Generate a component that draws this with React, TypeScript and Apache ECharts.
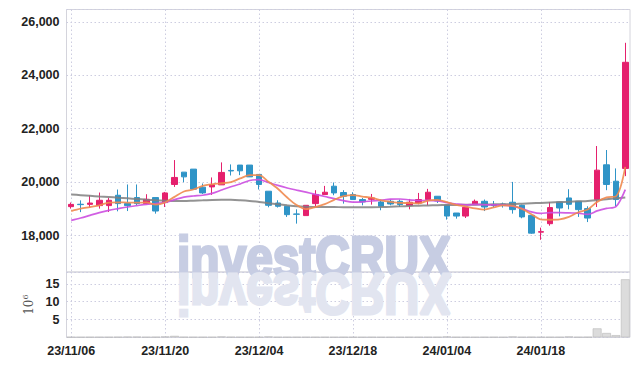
import React, { useEffect, useRef } from "react";
import * as echarts from "echarts";

const dates = [
  "23/11/06", "23/11/07", "23/11/08", "23/11/09", "23/11/10",
  "23/11/13", "23/11/14", "23/11/15", "23/11/16", "23/11/17",
  "23/11/20", "23/11/21", "23/11/22", "23/11/23", "23/11/24",
  "23/11/27", "23/11/28", "23/11/29", "23/11/30", "23/12/01",
  "23/12/04", "23/12/05", "23/12/06", "23/12/07", "23/12/08",
  "23/12/11", "23/12/12", "23/12/13", "23/12/14", "23/12/15",
  "23/12/18", "23/12/19", "23/12/20", "23/12/21", "23/12/22",
  "23/12/26", "23/12/27", "23/12/28", "24/01/02", "24/01/03",
  "24/01/04", "24/01/05", "24/01/08", "24/01/09", "24/01/10",
  "24/01/11", "24/01/12", "24/01/15", "24/01/16", "24/01/17",
  "24/01/18", "24/01/19", "24/01/22", "24/01/23", "24/01/24",
  "24/01/25", "24/01/26", "24/01/29", "24/01/30", "24/01/31",
];

// [open, close, low, high]
const ohlc = [
  [19085, 19170, 19010, 19240], [19175, 19160, 18880, 19320], [19170, 19220, 19050, 19510],
  [19124, 19323, 19011, 19613], [19124, 19323, 18883, 19410], [19511, 19199, 18910, 19726],
  [19199, 19124, 18920, 19914], [19425, 19199, 19135, 19914], [19199, 19361, 19173, 19550],
  [19425, 18921, 18823, 19425], [19237, 19598, 19072, 19635], [19914, 20177, 19823, 20827],
  [20376, 20199, 20000, 20376], [20489, 19737, 19737, 20489], [19812, 19598, 19560, 19950],
  [19823, 19900, 19523, 20177], [19900, 20365, 19900, 20740], [20440, 20420, 20250, 20665],
  [20640, 20425, 20263, 20640], [20640, 20199, 20199, 20640], [20290, 19914, 19726, 20290],
  [19662, 19135, 19060, 19662], [19222, 19098, 19050, 19323], [19098, 18785, 18700, 19098],
  [18810, 18800, 18450, 18985], [18750, 19135, 18750, 19135], [19199, 19537, 19072, 19700],
  [19537, 19624, 19537, 19861], [19850, 19598, 19511, 19989], [19613, 19474, 19199, 19700],
  [19537, 19350, 19350, 19624], [19350, 19260, 19135, 19410], [19360, 19410, 19160, 19560],
  [19260, 19098, 18950, 19350], [19285, 19185, 19135, 19350], [19285, 19160, 19072, 19350],
  [19124, 19250, 18985, 19373], [19222, 19350, 19173, 19598], [19350, 19624, 19135, 19750],
  [19474, 19297, 19222, 19474], [19147, 18733, 18600, 19147], [18846, 18733, 18636, 18846],
  [18733, 19060, 18660, 19060], [19160, 19285, 19160, 19350], [19285, 19072, 18920, 19350],
  [19160, 19124, 19050, 19297], [19185, 19124, 19050, 19235], [19250, 18974, 18823, 20010],
  [19135, 18700, 18650, 19160], [18760, 18094, 18070, 18760], [18130, 18150, 17845, 18300],
  [18447, 19050, 18372, 19260], [19260, 19034, 18722, 19260], [19410, 19173, 18985, 19737],
  [19285, 18974, 18700, 19285], [19011, 18658, 18508, 19098], [19350, 20450, 19072, 21353],
  [20650, 19914, 19700, 21203], [20037, 19350, 19098, 20515], [20515, 24485, 20226, 25214],
];

const ma5 = [
  18920, 19010, 19070, 19135, 19239, 19245, 19238, 19234, 19241, 19161,
  19241, 19451, 19651, 19726, 19862, 19922, 19960, 20004, 20142, 20262,
  20265, 20019, 19754, 19426, 19146, 18991, 19071, 19176, 19339, 19474,
  19517, 19461, 19418, 19318, 19261, 19223, 19221, 19209, 19314, 19336,
  19251, 19147, 19089, 19022, 18977, 19055, 19133, 19116, 18999, 18803,
  18608, 18594, 18606, 18700, 18876, 18978, 19258, 19434, 19469, 20571,
];

const ma10 = [
  18571, 18660, 18760, 18861, 18947, 19011, 19072, 19124, 19173, 19200,
  19243, 19345, 19442, 19484, 19511, 19581, 19706, 19828, 19934, 20062,
  20093, 19989, 19879, 19784, 19704, 19628, 19545, 19465, 19383, 19310,
  19254, 19266, 19297, 19329, 19367, 19370, 19341, 19314, 19316, 19298,
  19237, 19184, 19149, 19168, 19156, 19153, 19140, 19103, 19010, 18890,
  18832, 18863, 18861, 18850, 18840, 18793, 18926, 19020, 19085, 19724,
];

const ma60 = [
  19540, 19515, 19490, 19465, 19445, 19420, 19395, 19370, 19345, 19325,
  19310, 19300, 19300, 19310, 19320, 19335, 19340, 19340, 19325, 19300,
  19260, 19215, 19175, 19135, 19100, 19080, 19075, 19070, 19068, 19066,
  19065, 19065, 19065, 19070, 19080, 19095, 19110, 19120, 19130, 19140,
  19145, 19150, 19155, 19160, 19165, 19170, 19175, 19180, 19195, 19210,
  19225, 19240, 19255, 19270, 19285, 19300, 19325, 19360, 19395, 19430,
];

// volume in millions
const volume = [
  0.05, 0.04, 0.05, 0.06, 0.05, 0.08, 0.15, 0.15, 0.06, 0.08,
  0.2, 0.4, 0.08, 0.06, 0.05, 0.07, 0.2, 0.08, 0.06, 0.05,
  0.05, 0.2, 0.06, 0.05, 0.05, 0.06, 0.05, 0.05, 0.04, 0.05,
  0.05, 0.04, 0.05, 0.04, 0.04, 0.04, 0.05, 0.05, 0.06, 0.05,
  0.2, 0.05, 0.05, 0.04, 0.05, 0.05, 0.04, 0.2, 0.06, 0.08,
  0.06, 0.05, 0.05, 0.2, 0.06, 0.08, 2.5, 1.2, 0.6, 16.3,
];

const UP = "#e5206d";
const DOWN = "#2f94c7";
const FONT = '"Liberation Sans", Arial, sans-serif';
const WATERMARK_FONT = 'bold 57px "Liberation Sans", Arial, sans-serif';

export default function App() {
  const ref = useRef<HTMLDivElement>(null);
  useEffect(() => {
    document.body.style.margin = "0";
    const chart = echarts.init(ref.current!, null, { renderer: "svg" });
    const dotted = { color: "#cdcde0", type: [1.5, 2.5], width: 1 };
    const every10 = (i: number) => i % 10 === 0;
    const labelStyle = {
      fontFamily: FONT,
      fontWeight: "bold",
      fontSize: 12.5,
      color: "#222",
    };
    chart.setOption({
      animation: false,
      backgroundColor: "#ffffff",
      grid: [
        { left: 66.5, right: 9, top: 9.5, height: 262.5, show: true, borderColor: "#d4d4dc", borderWidth: 1 },
        { left: 66.5, right: 9, top: 272, height: 65.3, show: true, borderColor: "#d4d4dc", borderWidth: 1 },
      ],
      xAxis: [
        {
          type: "category",
          gridIndex: 0,
          data: dates,
          boundaryGap: true,
          axisLine: { show: false },
          axisTick: { show: false },
          axisLabel: { show: false },
          splitLine: { show: true, interval: every10, alignWithLabel: true, lineStyle: dotted },
        },
        {
          type: "category",
          gridIndex: 1,
          data: dates,
          boundaryGap: true,
          axisLine: { show: false },
          axisTick: { show: false },
          axisLabel: { show: true, interval: every10, margin: 7, ...labelStyle },
          splitLine: { show: true, interval: every10, alignWithLabel: true, lineStyle: dotted },
        },
      ],
      yAxis: [
        {
          type: "value",
          gridIndex: 0,
          min: 16640,
          max: 26460,
          splitNumber: 5,
          axisLine: { show: false },
          axisTick: { show: false },
          axisLabel: {
            ...labelStyle,
            margin: 7,
            showMinLabel: false,
            showMaxLabel: false,
            formatter: (v: number) => v.toLocaleString("en-US"),
          },
          splitLine: { show: true, lineStyle: dotted },
        },
        {
          type: "value",
          gridIndex: 1,
          min: 0,
          max: 18.35,
          interval: 5,
          name: "{a|10}{b|6}",
          nameLocation: "middle",
          nameRotate: 90,
          nameGap: 29,
          nameTextStyle: {
            rich: {
              a: { fontFamily: "DejaVu Serif", fontSize: 12, color: "#555" },
              b: { fontFamily: "DejaVu Serif", fontSize: 8, color: "#555", verticalAlign: "top", padding: [0, 0, 6, 0] },
            },
          },
          axisLine: { show: false },
          axisTick: { show: false },
          axisLabel: { ...labelStyle, margin: 7, showMinLabel: false, showMaxLabel: false },
          splitLine: { show: true, lineStyle: dotted },
        },
      ],
      graphic: [
        {
          type: "text",
          x: 177,
          y: 285,
          scaleX: 0.84,
          z: 1,
          silent: true,
          style: {
            text: "investCRUX",
            font: WATERMARK_FONT,
            fill: "#c7cde3",
            stroke: "#c7cde3",
            lineWidth: 3,
            textVerticalAlign: "bottom",
          },
        },
        {
          type: "text",
          x: 177,
          y: 266,
          scaleX: 0.84,
          scaleY: -1,
          z: 1,
          silent: true,
          style: {
            text: "investCRUX",
            font: WATERMARK_FONT,
            fill: "#e2e5f0",
            stroke: "#e2e5f0",
            lineWidth: 3,
            textVerticalAlign: "bottom",
          },
        },
      ],
      series: [
        {
          type: "candlestick",
          xAxisIndex: 0,
          yAxisIndex: 0,
          data: ohlc,
          barWidth: 6,
          z: 3,
          itemStyle: {
            color: UP,
            color0: DOWN,
            borderColor: UP,
            borderColor0: DOWN,
            borderWidth: 1,
          },
        },
        {
          type: "line",
          xAxisIndex: 0,
          yAxisIndex: 0,
          data: ma60,
          symbol: "none",
          smooth: 0.3,
          z: 4,
          lineStyle: { color: "#808080", width: 2, opacity: 0.85 },
        },
        {
          type: "line",
          xAxisIndex: 0,
          yAxisIndex: 0,
          data: ma10,
          symbol: "none",
          smooth: 0.3,
          z: 4,
          lineStyle: { color: "#cc4ee0", width: 1.7, opacity: 0.9 },
        },
        {
          type: "line",
          xAxisIndex: 0,
          yAxisIndex: 0,
          data: ma5,
          symbol: "none",
          smooth: 0.3,
          z: 4,
          lineStyle: { color: "#ef8a4f", width: 1.8, opacity: 0.9 },
        },
        {
          type: "bar",
          xAxisIndex: 1,
          yAxisIndex: 1,
          data: volume,
          barCategoryGap: "6%",
          itemStyle: { color: "#dcdcdc", borderColor: "#b8b8b8", borderWidth: 0.6 },
        },
      ],
    });
    return () => chart.dispose();
  }, []);
  return <div ref={ref} style={{ width: 639, height: 366 }} />;
}
